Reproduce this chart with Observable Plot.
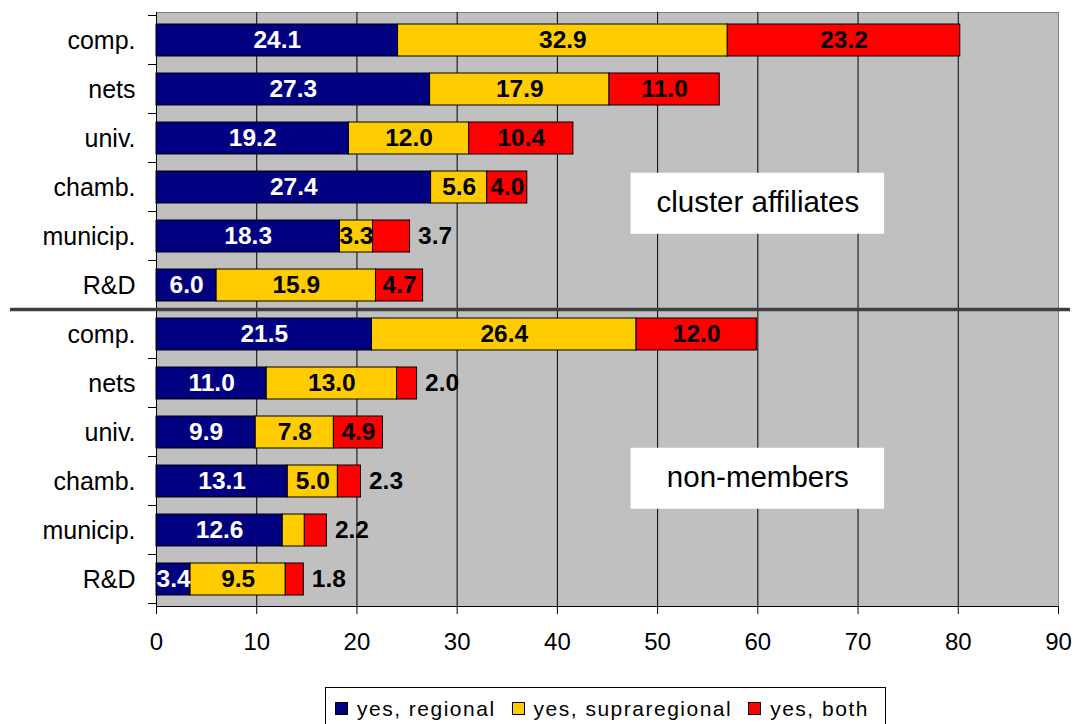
<!DOCTYPE html>
<html>
<head>
<meta charset="utf-8">
<script src="https://cdn.jsdelivr.net/npm/d3@7"></script>
<script src="https://cdn.jsdelivr.net/npm/@observablehq/plot@0.6"></script>
<style>
  html, body { margin: 0; padding: 0; background: #fff; overflow: hidden; }
  body { font-family: "Liberation Sans", Arial, sans-serif; }
  #wrap { position: relative; width: 1074px; height: 724px; overflow: hidden; }
  #chart svg { display: block; }
  #legend {
    position: absolute; left: 325px; top: 687px; width: 561px; height: 60px;
    box-sizing: border-box; border: 1px solid #000; background: #fff;
    display: flex; align-items: flex-start; padding-left: 9px; padding-top: 14px;
    font-size: 21px; letter-spacing: 1.5px; color: #000;
  }
  .item { display: flex; align-items: center; height: 13px; margin-right: 16px; white-space: nowrap; }
  .sw { width: 13px; height: 13px; box-sizing: border-box; border: 1px solid #000; margin-right: 9px; flex: none; }
  .lab { line-height: 21px; }
</style>
</head>
<body>
<div id="wrap">
  <div id="chart"></div>
  <div id="legend"></div>
</div>
<script>
// ---- data ----
const categories = ["comp.", "nets", "univ.", "chamb.", "municip.", "R&D"];
const groups = ["cluster affiliates", "non-members"];
const seriesNames = ["yes, regional", "yes, supraregional", "yes, both"];

const clusterRegional = [24.1, 27.3, 19.2, 27.4, 18.3, 6.0];
const clusterSupra    = [32.9, 17.9, 12.0, 5.6, 3.3, 15.9];
const clusterBoth     = [23.2, 11.0, 10.4, 4.0, 3.7, 4.7];

const nonRegional = [21.5, 11.0, 9.9, 13.1, 12.6, 3.4];
const nonSupra    = [26.4, 13.0, 7.8, 5.0, 2.2, 9.5];
const nonBoth     = [12.0, 2.0, 4.9, 2.3, 2.2, 1.8];

const xTicks = [0, 10, 20, 30, 40, 50, 60, 70, 80, 90];
const colors = ["#000080", "#FFCC00", "#FF0000"];

// ---- table ----
const seriesByGroup = {
  "cluster affiliates": [clusterRegional, clusterSupra, clusterBoth],
  "non-members": [nonRegional, nonSupra, nonBoth]
};
const keys = groups.flatMap(g => categories.map(c => g + "|" + c));
const rows = [];
groups.forEach(g => categories.forEach((c, ci) => seriesNames.forEach((s, si) => {
  rows.push({key: g + "|" + c, group: g, cat: c, series: s, si, value: seriesByGroup[g][si][ci]});
})));

function mode(d) {
  if (d.si === 2 && d.value < 3.9) return "outside";
  if (d.si === 1 && d.value < 3) return "none";
  return "inside";
}
const fmt = d => d.value.toFixed(1);

const annotations = [
  {label: "cluster affiliates", key: "cluster affiliates|chamb.", x: 60, dy: 16.25},
  {label: "non-members", key: "non-members|chamb.", x: 60, dy: -2.75}
];

const font = '"Liberation Sans", Arial, sans-serif';

const annotationMarks = annotations.flatMap(a => [
  Plot.barX([a], {x1: d => d.x - 12.65, x2: d => d.x + 12.65, y: "key", fill: "#fff",
                  insetTop: a.dy - 14.5, insetBottom: -14.5 - a.dy}),
  Plot.text([a], {x: "x", y: "key", text: "label", dy: a.dy - 1, fontSize: 29.5, fill: "#000"})
]);

const chart = Plot.plot({
  width: 1074,
  height: 660,
  marginLeft: 156,
  marginRight: 16,
  marginTop: 12,
  marginBottom: 54,
  style: {fontFamily: font, fontSize: "24px", background: "transparent", color: "#000"},
  x: {domain: [0, 90], ticks: xTicks, label: null, tickSize: 8, tickPadding: 18},
  y: {domain: keys, paddingInner: 0.355, paddingOuter: 0.1775, label: null, tickSize: 0, tickPadding: 21,
      tickFormat: k => k.split("|")[1]},
  color: {domain: seriesNames, range: colors},
  marks: [
    Plot.frame({fill: "#c0c0c0", stroke: "#808080"}),
    Plot.ruleX(xTicks.filter(v => v > 0 && v < 90), {stroke: "#000", strokeWidth: 1}),
    Plot.ruleX([0], {stroke: "#000"}),
    Plot.frame({anchor: "bottom", stroke: "#000"}),
    Plot.barX(rows, {x: "value", y: "key", z: "series", fill: "series", stroke: "#000", strokeWidth: 1}),
    Plot.text(rows, Plot.stackX({x: "value", y: "key", z: "series",
      text: d => (mode(d) === "inside" && d.si === 0) ? fmt(d) : null,
      fill: "#fff", fontWeight: "bold", fontSize: 24.5})),
    Plot.text(rows, Plot.stackX({x: "value", y: "key", z: "series",
      text: d => (mode(d) === "inside" && d.si > 0) ? fmt(d) : null,
      fill: "#000", fontWeight: "bold", fontSize: 24.5})),
    Plot.text(rows, Plot.stackX2({x: "value", y: "key", z: "series",
      text: d => mode(d) === "outside" ? fmt(d) : null,
      textAnchor: "start", dx: 8, fill: "#000", fontWeight: "bold", fontSize: 24.5})),
    ...annotationMarks
  ]
});

document.getElementById("chart").appendChild(chart);

// y tick labels slightly larger than the x tick labels
d3.select(chart).selectAll("[aria-label='y-axis tick label'] text, g[aria-label='y-axis tick label']")
  .attr("font-size", 25);

// ---- y ticks at band boundaries and group separator, from the y scale ----
const ys = chart.scale("y");
const xs = chart.scale("x");
const gap = (ys.step - ys.bandwidth) / 2;
const bounds = keys.map(k => ys.apply(k) - gap);
bounds.push(ys.apply(keys[keys.length - 1]) + ys.bandwidth + gap);
const svg = d3.select(chart);
const x0 = xs.apply(0);
svg.append("g").selectAll("line").data(bounds).join("line")
  .attr("x1", x0 - 8).attr("x2", x0).attr("y1", d => d).attr("y2", d => d)
  .attr("stroke", "#000").attr("stroke-width", 1);
const sepY = bounds[categories.length];
svg.append("line")
  .attr("x1", 10).attr("x2", 1070).attr("y1", sepY).attr("y2", sepY)
  .attr("stroke", "#404040").attr("stroke-width", 3.5);

// ---- legend ----
const legend = d3.select("#legend");
seriesNames.forEach((s, i) => {
  const it = legend.append("div").attr("class", "item");
  it.append("div").attr("class", "sw").style("background", colors[i]);
  it.append("span").attr("class", "lab").text(s);
});
</script>
</body>
</html>
